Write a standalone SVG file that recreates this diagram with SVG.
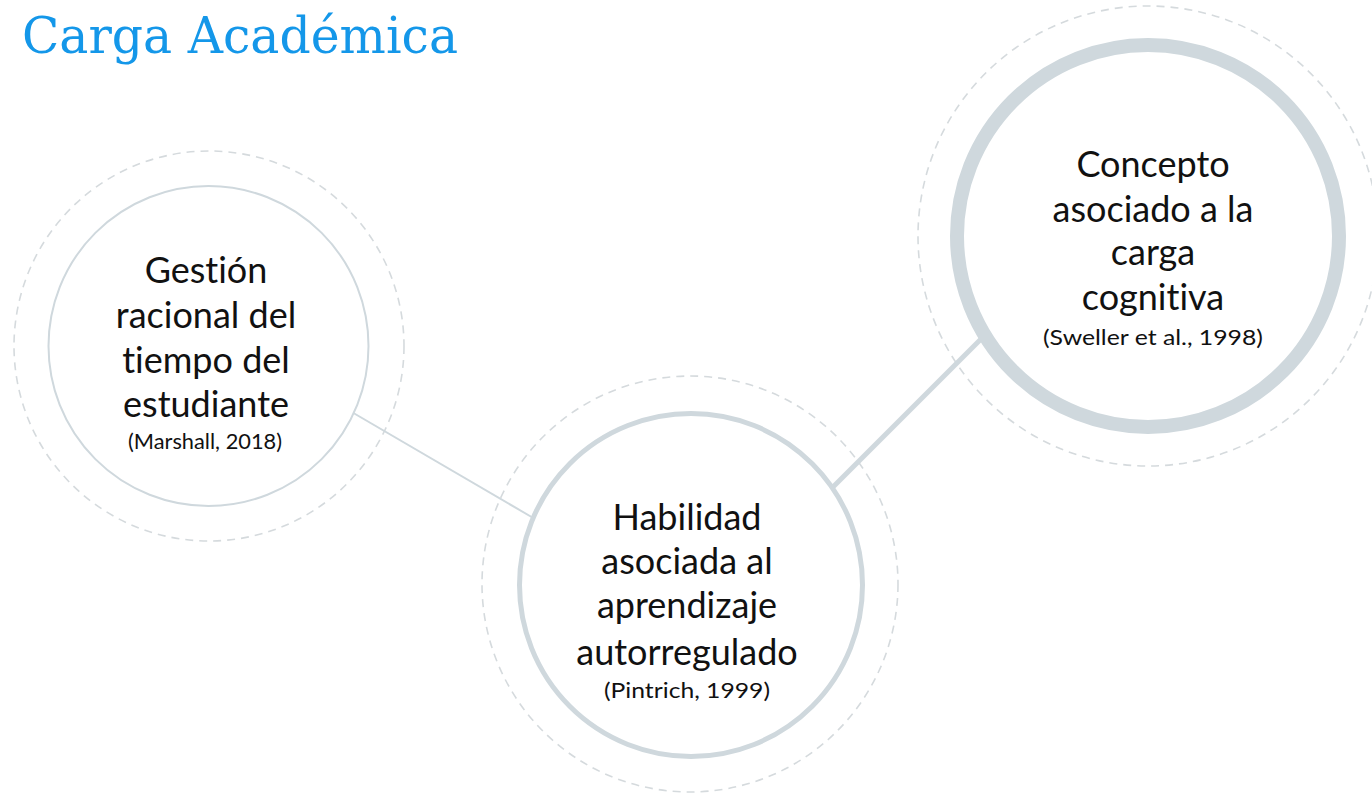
<svg xmlns="http://www.w3.org/2000/svg" width="1372" height="795" viewBox="0 0 1372 795">
<style>
.dash{fill:none;stroke:#d5dadd;stroke-width:1.6;stroke-dasharray:8 6}
.ring{fill:#ffffff;stroke:#cfd8dd}
.t{font-family:Lato,"Noto Sans",sans-serif;font-size:36px;fill:#111;text-anchor:middle;font-variant-ligatures:none}
.c{font-family:Lato,"Noto Sans",sans-serif;font-size:21px;fill:#111;text-anchor:middle;font-variant-ligatures:none}
.title{font-family:"DejaVu Serif",serif;font-size:50px;fill:#1497e9}
</style>
<rect width="1372" height="795" fill="#ffffff"/>
<text class="title" x="22" y="53" textLength="436" lengthAdjust="spacingAndGlyphs">Carga Académica</text>
<g id="dashed-rings">
<circle class="dash" cx="209" cy="346" r="195"/>
<circle class="dash" cx="690" cy="584" r="208"/>
<circle class="dash" cx="1148" cy="236" r="230"/>
</g>
<g id="connectors">
<line x1="350" y1="411" x2="535" y2="519" stroke="#cfd8dd" stroke-width="2"/>
<line x1="830" y1="490" x2="985" y2="335" stroke="#cfd8dd" stroke-width="5"/>
</g>
<g id="node-gestion">
<circle class="ring" cx="208.5" cy="346" r="160" stroke-width="2"/>
<text class="t" x="206" y="283">Gestión</text>
<text class="t" x="206" y="328">racional del</text>
<text class="t" x="206" y="373">tiempo del</text>
<text class="t" x="206" y="417">estudiante</text>
<text class="c" x="205" y="449" textLength="154" lengthAdjust="spacingAndGlyphs">(Marshall, 2018)</text>
</g>
<g id="node-habilidad">
<circle class="ring" cx="691" cy="585" r="171.5" stroke-width="5"/>
<text class="t" x="687" y="530">Habilidad</text>
<text class="t" x="687" y="574">asociada al</text>
<text class="t" x="687" y="618">aprendizaje</text>
<text class="t" x="687" y="665">autorregulado</text>
<text class="c" x="687" y="698" textLength="166" lengthAdjust="spacingAndGlyphs">(Pintrich, 1999)</text>
</g>
<g id="node-concepto">
<circle class="ring" cx="1148" cy="236" r="191" stroke-width="14"/>
<text class="t" x="1153" y="177">Concepto</text>
<text class="t" x="1153" y="222">asociado a la</text>
<text class="t" x="1153" y="265">carga</text>
<text class="t" x="1153" y="310">cognitiva</text>
<text class="c" x="1153" y="345" textLength="220" lengthAdjust="spacingAndGlyphs">(Sweller et al., 1998)</text>
</g>
</svg>
